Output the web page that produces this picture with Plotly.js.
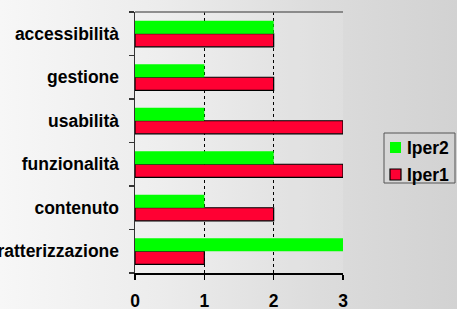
<!DOCTYPE html>
<html><head><meta charset="utf-8">
<script src="https://cdn.plot.ly/plotly-3.0.1.min.js"></script>
<style>
html,body{margin:0;padding:0;width:457px;height:309px;overflow:hidden;
background:linear-gradient(to right,#f7f7f7 0%,#ececec 35%,#dcdcdc 70%,#d2d2d2 100%);}
#chart{width:457px;height:309px;}
</style></head>
<body><div id="chart"></div>
<script>
const categories = ['caratterizzazione','contenuto','funzionalità','usabilità','gestione','accessibilità'];
const iper1 = [1, 2, 3, 3, 2, 2];
const iper2 = [3, 1, 2, 1, 1, 2];
const xTicks = [0, 1, 2, 3];
const seriesNames = ['Iper2', 'Iper1'];
const seriesColors = {Iper1: '#ff0033', Iper2: '#00ff00'};

const W = 457, H = 309;
const M = {l: 135, r: 114, t: 12, b: 36};
const font = {family: 'Liberation Sans, Arial, sans-serif', size: 17.5, color: '#000', weight: 'bold'};

const data = [
  {type: 'bar', orientation: 'h', name: 'Iper1', y: categories, x: iper1,
   marker: {color: seriesColors.Iper1, line: {color: '#000', width: 1.2}}},
  {type: 'bar', orientation: 'h', name: 'Iper2', y: categories, x: iper2,
   marker: {color: seriesColors.Iper2, line: {width: 0}}}
];

// legend drawn in pixel space, converted to paper coordinates
const pw = W - M.l - M.r, ph = H - M.t - M.b;
const px = v => (v - M.l) / pw;
const py = v => 1 - (v - M.t) / ph;
const shapes = [
  {type: 'line', xref: 'paper', yref: 'paper', x0: 0, x1: 1, y0: 1, y1: 1,
   line: {color: '#6e6e6e', width: 1.5}},
  {type: 'rect', xref: 'paper', yref: 'paper', x0: px(384), x1: px(455), y0: py(133), y1: py(183),
   line: {color: '#555', width: 1}, fillcolor: 'rgba(0,0,0,0)'}
];
const annotations = [];
seriesNames.forEach((n, i) => {
  const cy = 147.5 + i * 27;
  shapes.push({type: 'rect', xref: 'paper', yref: 'paper', x0: px(390), x1: px(401), y0: py(cy - 5.5), y1: py(cy + 5.5),
    fillcolor: seriesColors[n], line: {color: n === 'Iper1' ? '#000' : seriesColors[n], width: n === 'Iper1' ? 1.2 : 0}});
  annotations.push({xref: 'paper', yref: 'paper', x: px(405), y: py(cy), xanchor: 'left', yanchor: 'middle',
    text: n, showarrow: false, font: font});
});

const layout = {
  width: W, height: H, margin: M,
  paper_bgcolor: 'rgba(0,0,0,0)',
  plot_bgcolor: 'rgba(255,255,255,0.12)',
  barmode: 'group', bargap: 0.4, bargroupgap: 0,
  font: font, showlegend: false,
  shapes: shapes, annotations: annotations,
  xaxis: {range: [0, 3], tickvals: xTicks, ticktext: xTicks.map(String),
    showgrid: true, gridcolor: '#000', griddash: 'dot', gridwidth: 1,
    showline: true, linecolor: '#000', linewidth: 1.5,
    ticks: 'outside', ticklen: 5, tickcolor: '#000', tickwidth: 1.5,
    ticklabelstandoff: 6,
    zeroline: false, tickfont: font, fixedrange: true, automargin: false},
  yaxis: {type: 'category', categoryorder: 'array', categoryarray: categories,
    showgrid: false, showline: true, linecolor: '#333', linewidth: 1.5,
    ticks: 'outside', tickson: 'boundaries', ticklen: 5, tickcolor: '#333', tickwidth: 1.5,
    ticklabelstandoff: 11, tickfont: font, fixedrange: true, automargin: false}
};

Plotly.newPlot('chart', data, layout, {displayModeBar: false, staticPlot: true});
</script>
</body></html>
